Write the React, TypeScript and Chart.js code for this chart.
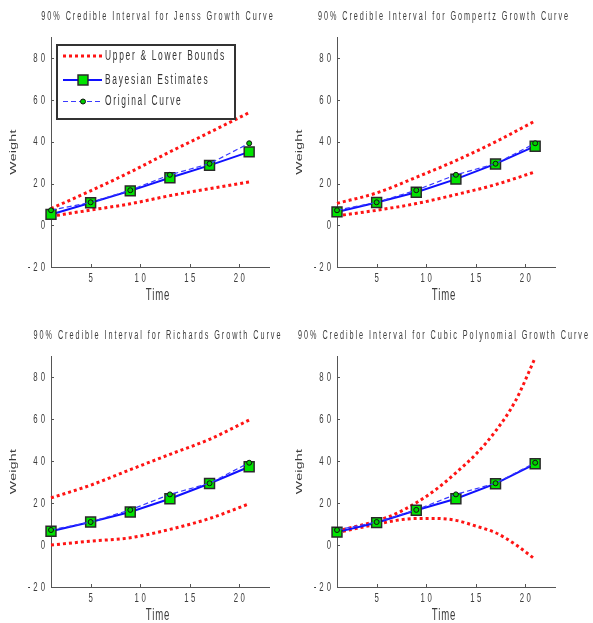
import React, { useEffect, useRef } from 'react';
import { Chart, registerables } from 'chart.js';

Chart.register(...registerables);

// ---------- data ----------
const timePoints = [1, 5, 9, 13, 17, 21];
const cubicBoundTimes = [1, 3, 5, 7, 9, 11, 13, 15, 17, 19, 21];
const xTickValues = [5, 10, 15, 20];
const yTickValues = [-20, 0, 20, 40, 60, 80];

const originalCurve = [7.2, 11, 16.8, 24.2, 29.5, 39.3];

const jenssUpper = [8, 16.5, 25.5, 35.2, 44.5, 54];
const jenssLower = [4.3, 7.3, 10.3, 14.2, 17.5, 20.8];
const jenssEstimates = [5.2, 10.8, 16.5, 22.8, 28.7, 35.2];

const gompertzUpper = [10.5, 15.5, 23, 31, 40, 50];
const gompertzLower = [4.5, 7.2, 10.4, 14.7, 19.5, 25.6];
const gompertzEstimates = [6.4, 10.9, 15.8, 22.1, 29.4, 37.9];

const richardsUpper = [22.5, 28.6, 36, 43.3, 50.5, 59.7];
const richardsLower = [0, 1.9, 3.5, 7.5, 12.7, 19.7];
const richardsEstimates = [6.6, 11, 15.8, 22.1, 29.4, 37.4];

const cubicUpper = [6.7, 9, 11.5, 15.1, 20.2, 26.6, 34.5, 43.3, 54.4, 68.7, 89.4];
const cubicLower = [5.9, 8, 9.9, 11.8, 12.7, 12.7, 11.8, 9.1, 5.9, 0.3, -6.8];
const cubicEstimates = [6.2, 10.7, 16.6, 22.1, 29.3, 38.8];

const titles = [
  '90% Credible Interval for Jenss Growth Curve',
  '90% Credible Interval for Gompertz Growth Curve',
  '90% Credible Interval for Richards Growth Curve',
  '90% Credible Interval for Cubic Polynomial Growth Curve',
];
const seriesLabels = ['Upper & Lower Bounds', 'Bayesian Estimates', 'Original Curve'];
const xTitle = 'Time';
const yTitle = 'Weight';

// ---------- layout / style ----------
const PAGE_W = 593;
const PAGE_H = 623;
const Y_AXIS_W = 51;
const X_AXIS_H = 30;
const FONT = '"Liberation Sans", Arial, Helvetica, sans-serif';
const TEXT = '#3c3c3c';
const AXIS = '#555';

type Area = { l: number; t: number; r: number; b: number };
type PanelCfg = {
  title: string;
  upper: number[];
  lower: number[];
  boundTimes: number[];
  est: number[];
  legend: boolean;
  area: Area;
};

const panels: PanelCfg[] = [
  { title: titles[0], upper: jenssUpper, lower: jenssLower, boundTimes: timePoints, est: jenssEstimates, legend: true,
    area: { l: 51, t: 37.5, r: 269, b: 267 } },
  { title: titles[1], upper: gompertzUpper, lower: gompertzLower, boundTimes: timePoints, est: gompertzEstimates, legend: false,
    area: { l: 337, t: 37.5, r: 555, b: 267 } },
  { title: titles[2], upper: richardsUpper, lower: richardsLower, boundTimes: timePoints, est: richardsEstimates, legend: false,
    area: { l: 51, t: 356.5, r: 269, b: 587 } },
  { title: titles[3], upper: cubicUpper, lower: cubicLower, boundTimes: cubicBoundTimes, est: cubicEstimates, legend: false,
    area: { l: 337, t: 356.5, r: 555, b: 587 } },
];

// text drawn with a narrow horizontal scale and extra spacing, like the reference rendering
function drawSpaced(
  ctx: CanvasRenderingContext2D,
  text: string,
  x: number,
  y: number,
  size: number,
  sx: number,
  sy: number,
  spacing: number,
  align: 'left' | 'center' | 'right',
  color: string = TEXT,
) {
  ctx.save();
  ctx.font = `${size}px ${FONT}`;
  ctx.textBaseline = 'middle';
  ctx.textAlign = 'left';
  ctx.fillStyle = color;
  (ctx as any).letterSpacing = '0px';
  const chars = Array.from(text);
  const widths = chars.map((c) => ctx.measureText(c).width * sx);
  const total = widths.reduce((s, w) => s + w, 0) + spacing * (chars.length - 1);
  let cx = align === 'left' ? x : align === 'center' ? x - total / 2 : x - total;
  chars.forEach((c, i) => {
    ctx.save();
    ctx.translate(cx, y);
    ctx.scale(sx, sy);
    ctx.fillText(c, 0, 0);
    ctx.restore();
    cx += widths[i] + spacing;
  });
  ctx.restore();
}

function drawMarker(ctx: CanvasRenderingContext2D, d: any, x: number, y: number) {
  if (!d.pointRadius) return;
  ctx.save();
  ctx.setLineDash([]);
  ctx.fillStyle = d.pointBackgroundColor;
  ctx.strokeStyle = d.pointBorderColor;
  ctx.lineWidth = d.pointBorderWidth;
  ctx.beginPath();
  if (d.pointStyle === 'rect') {
    const s = Math.SQRT1_2 * d.pointRadius;
    ctx.rect(x - s, y - s, 2 * s, 2 * s);
  } else {
    ctx.arc(x, y, d.pointRadius, 0, Math.PI * 2);
  }
  ctx.fill();
  ctx.stroke();
  ctx.restore();
}

function drawLegend(chart: any) {
  const ctx: CanvasRenderingContext2D = chart.ctx;
  const a = chart.chartArea;
  const ds = chart.data.datasets;
  const items = [ds[0], ds[2], ds[3]];
  const bx = a.left + 6;
  const by = a.top + 7.5;
  const bw = 178;
  const bh = 74;
  ctx.save();
  ctx.fillStyle = '#ffffff';
  ctx.fillRect(bx, by, bw, bh);
  ctx.strokeStyle = '#333';
  ctx.lineWidth = 2;
  ctx.strokeRect(bx, by, bw, bh);
  const rowY = [by + 11, by + 35, by + 56.5];
  items.forEach((d: any, i: number) => {
    const y = rowY[i];
    ctx.save();
    ctx.beginPath();
    ctx.setLineDash(d.borderDash || []);
    ctx.strokeStyle = d.borderColor;
    ctx.lineWidth = d.borderWidth;
    ctx.moveTo(bx + 6, y);
    ctx.lineTo(bx + 45, y);
    ctx.stroke();
    ctx.restore();
    drawMarker(ctx, d, bx + 26, y);
    drawSpaced(ctx, d.label, bx + 48, y, 14, 0.6, 1, 1.7, 'left', '#333');
  });
  ctx.restore();
}

const decorPlugin = {
  id: 'panelDecor',
  beforeDatasetsDraw(chart: any) {
    const ctx: CanvasRenderingContext2D = chart.ctx;
    const xs = chart.scales.x;
    const ys = chart.scales.y;
    const a = chart.chartArea;
    ctx.save();
    ctx.strokeStyle = AXIS;
    ctx.lineWidth = 1;
    ctx.beginPath();
    xs.ticks.forEach((t: any) => {
      const px = Math.round(xs.getPixelForValue(t.value)) + 0.5;
      ctx.moveTo(px, a.bottom);
      ctx.lineTo(px, a.bottom - 3);
    });
    ys.ticks.forEach((t: any) => {
      const py = Math.round(ys.getPixelForValue(t.value)) + 0.5;
      ctx.moveTo(a.left, py);
      ctx.lineTo(a.left + 3, py);
    });
    ctx.stroke();
    ctx.restore();
    // tick labels
    xs.ticks.forEach((t: any) => {
      drawSpaced(ctx, String(t.value), xs.getPixelForValue(t.value), a.bottom + 11, 13, 0.6, 1, 2.5, 'center');
    });
    ys.ticks.forEach((t: any) => {
      drawSpaced(ctx, String(t.value), a.left - 6, ys.getPixelForValue(t.value), 13, 0.6, 1, 3, 'right');
    });
  },
  afterDraw(chart: any, _args: any, opts: any) {
    const ctx: CanvasRenderingContext2D = chart.ctx;
    const a = chart.chartArea;
    const cx = (a.left + a.right) / 2;
    drawSpaced(ctx, opts.title, cx - 3, a.top - 21, 12.5, 0.58, 1, 1.95, 'center');
    drawSpaced(ctx, opts.xTitle, cx - 2.5, a.bottom + 29, 16, 0.6, 1, 0.8, 'center');
    ctx.save();
    ctx.translate(a.left - 37.5, (a.top + a.bottom) / 2);
    ctx.rotate(-Math.PI / 2);
    drawSpaced(ctx, opts.yTitle, 0, 0, 14, 1, 0.6, 0.3, 'center');
    ctx.restore();
    if (opts.legend) drawLegend(chart);
  },
};

function Panel({ cfg }: { cfg: PanelCfg }) {
  const ref = useRef<HTMLCanvasElement | null>(null);
  useEffect(() => {
    if (!ref.current) return;
    const toXY = (xs: number[], ys: number[]) => xs.map((x, i) => ({ x, y: ys[i] }));
    const bound = (vals: number[]) => ({
      label: seriesLabels[0],
      data: toXY(cfg.boundTimes, vals),
      borderColor: '#ff1414',
      borderWidth: 3,
      borderDash: [3, 3],
      borderCapStyle: 'butt',
      pointRadius: 0,
      pointHoverRadius: 0,
      cubicInterpolationMode: 'monotone',
      fill: false,
      order: 3,
      clip: false,
    });
    const chart = new Chart(ref.current, {
      type: 'line',
      data: {
        datasets: [
          bound(cfg.upper),
          bound(cfg.lower),
          {
            label: seriesLabels[1],
            data: toXY(timePoints, cfg.est),
            borderColor: '#1010ff',
            borderWidth: 2,
            pointStyle: 'rect',
            pointRadius: 7,
            pointBackgroundColor: '#00e400',
            pointBorderColor: '#2a2a2a',
            pointBorderWidth: 1.5,
            tension: 0,
            fill: false,
            order: 2,
            clip: false,
          },
          {
            label: seriesLabels[2],
            data: toXY(timePoints, originalCurve),
            borderColor: '#3a3aff',
            borderWidth: 1.2,
            borderDash: [5, 3],
            pointStyle: 'circle',
            pointRadius: 2.5,
            pointBackgroundColor: '#00cc00',
            pointBorderColor: '#111',
            pointBorderWidth: 1,
            tension: 0,
            fill: false,
            order: 1,
            clip: false,
          },
        ] as any,
      },
      options: {
        animation: false,
        responsive: false,
        events: [],
        layout: {
          padding: {
            left: cfg.area.l - Y_AXIS_W,
            top: cfg.area.t,
            right: PAGE_W - cfg.area.r,
            bottom: PAGE_H - cfg.area.b - X_AXIS_H,
          },
        },
        plugins: {
          legend: { display: false },
          title: { display: false },
          tooltip: { enabled: false },
          panelDecor: { title: cfg.title, xTitle, yTitle, legend: cfg.legend },
        } as any,
        scales: {
          x: {
            type: 'linear',
            min: 1,
            max: 23,
            afterBuildTicks: (s: any) => {
              s.ticks = xTickValues.map((v) => ({ value: v }));
            },
            afterFit: (s: any) => {
              s.height = X_AXIS_H;
            },
            grid: { display: false, drawTicks: false },
            border: { display: true, color: AXIS, width: 1 },
            ticks: { display: false },
          },
          y: {
            type: 'linear',
            min: -20,
            max: 90,
            afterBuildTicks: (s: any) => {
              s.ticks = yTickValues.map((v) => ({ value: v }));
            },
            afterFit: (s: any) => {
              s.width = Y_AXIS_W;
            },
            grid: { display: false, drawTicks: false },
            border: { display: true, color: AXIS, width: 1 },
            ticks: { display: false },
          },
        },
      } as any,
      plugins: [decorPlugin as any],
    });
    return () => chart.destroy();
  }, [cfg]);
  return (
    <canvas
      ref={ref}
      width={PAGE_W}
      height={PAGE_H}
      style={{ position: 'absolute', left: 0, top: 0, width: PAGE_W, height: PAGE_H }}
    />
  );
}

export default function App() {
  return (
    <div style={{ position: 'absolute', left: 0, top: 0, width: PAGE_W, height: PAGE_H, background: '#ffffff', overflow: 'hidden' }}>
      {panels.map((p, i) => (
        <Panel key={i} cfg={p} />
      ))}
    </div>
  );
}
